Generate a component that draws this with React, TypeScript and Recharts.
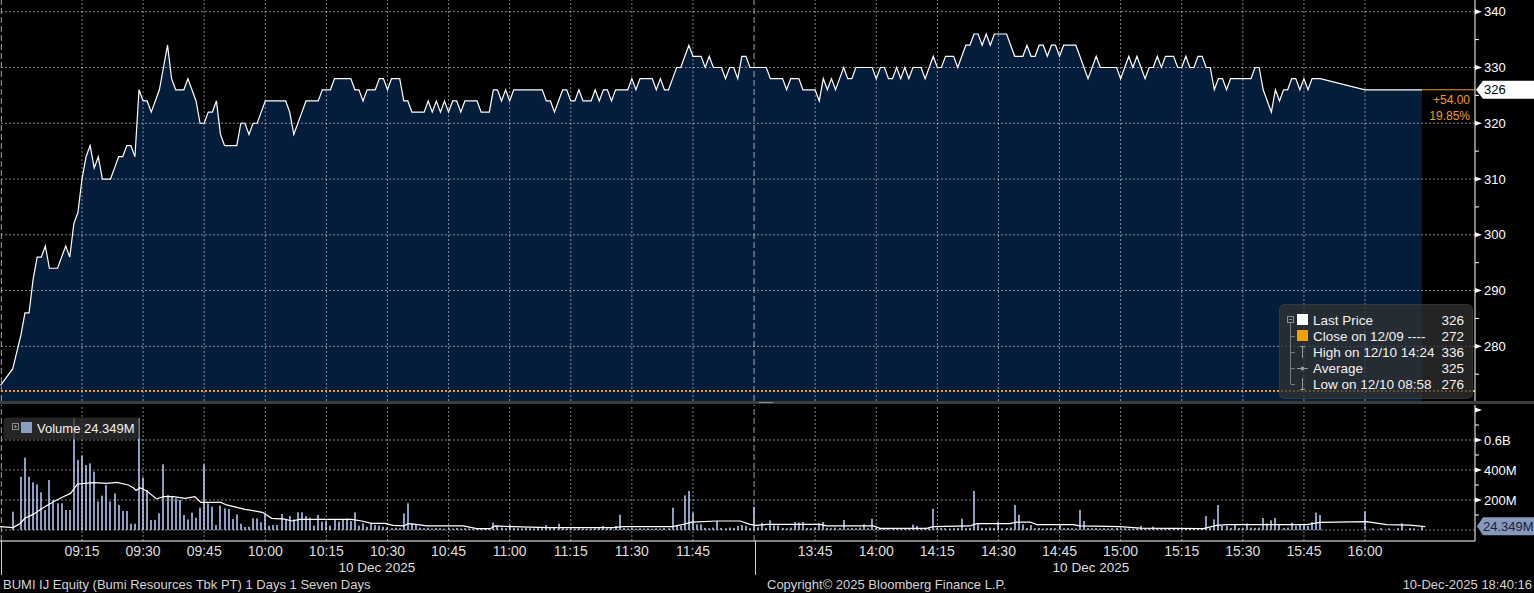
import React from 'react';
import { ComposedChart, Area, Bar, Line, XAxis, YAxis, ReferenceLine, ReferenceDot } from 'recharts';

const FONT = '"Liberation Sans", Arial, Helvetica, sans-serif';

// ---------- time axis: trading minutes from 09:00 (12:00–13:30 lunch break removed) ----------
const timeTickMinutes = [15, 30, 45, 60, 75, 90, 105, 120, 135, 150, 165, 195, 210, 225, 240, 255, 270, 285, 300, 315, 330];
const timeTickLabels = ['09:15', '09:30', '09:45', '10:00', '10:15', '10:30', '10:45', '11:00', '11:15', '11:30', '11:45',
  '13:45', '14:00', '14:15', '14:30', '14:45', '15:00', '15:15', '15:30', '15:45', '16:00'];
const sessionBreakMinute = 180;
const dayStartMinute = -4.8;
const xDomain: [number, number] = [-5.13, 357];
const dateLabelMinutes = [87.4, 262.7];
const dateLabel = '10 Dec 2025';

// ---------- price ----------
const preOpenMinutes = [-5, -2];
const preOpenPrices = [273, 276];
// one value per minute, minutes 0..319
const sessionPrices = [
  282, 286, 286, 292, 296, 296, 298, 294, 294, 294,
  296, 298, 296, 302, 304, 310, 314, 316, 312, 314,
  310, 310, 310, 312, 314, 314, 316, 316, 314, 326,
  324, 324, 322, 324, 326, 330, 334, 328, 326, 326,
  326, 328, 326, 324, 320, 320, 322, 322, 324, 318,
  316, 316, 316, 316, 320, 320, 318, 320, 320, 322,
  324, 324, 324, 324, 324, 324, 322, 318, 320, 322,
  324, 324, 324, 324, 326, 326, 326, 328, 328, 328,
  328, 328, 326, 326, 324, 326, 326, 326, 328, 328,
  326, 328, 328, 328, 324, 324, 322, 322, 322, 322,
  324, 322, 324, 322, 324, 322, 324, 324, 322, 324,
  324, 324, 324, 322, 322, 322, 326, 326, 324, 326,
  324, 326, 326, 326, 326, 326, 326, 326, 326, 324,
  324, 322, 324, 326, 326, 324, 324, 326, 324, 324,
  324, 326, 324, 326, 326, 324, 326, 326, 326, 326,
  328, 326, 328, 328, 328, 328, 326, 328, 326, 326,
  328, 330, 330, 332, 334, 332, 332, 332, 330, 332,
  330, 330, 330, 328, 330, 330, 328, 332, 332, 330,
  330, 330, 330, 330, 328, 328, 328, 328, 326, 328,
  328, 328, 326, 326, 326, 326, 324, 328, 326, 328,
  326, 328, 330, 328, 328, 330, 330, 330, 330, 330,
  328, 330, 330, 328, 328, 330, 328, 330, 328, 330,
  330, 330, 328, 330, 332, 330, 330, 332, 332, 332,
  330, 332, 334, 334, 336, 336, 334, 336, 334, 336,
  336, 336, 336, 334, 332, 332, 332, 334, 332, 332,
  334, 334, 332, 334, 334, 332, 334, 334, 334, 334,
  332, 330, 328, 330, 332, 330, 330, 330, 330, 330,
  328, 330, 332, 330, 332, 330, 328, 330, 330, 332,
  330, 332, 332, 332, 330, 330, 332, 330, 330, 332,
  332, 330, 330, 326, 328, 328, 326, 328, 328, 328,
  328, 328, 328, 330, 330, 326, 324, 322, 326, 324,
  326, 326, 328, 328, 326, 328, 326, 328, 328, 328,
];
const closingMinutes = [330, 344];
const closingPrices = [326, 326];
const prevClose = 272;
const lastPrice = 326;
const priceDomain: [number, number] = [270.2, 342.1];
const priceTicks = [275, 280, 285, 290, 295, 300, 305, 310, 315, 320, 325, 330, 335, 340];

const legendLabels = ['Last Price', 'Close on 12/09 ----', 'High on 12/10 14:24', 'Average', 'Low on 12/10 08:58'];
const legendValues = [326, 272, 336, 325, 276];

// ---------- volume (millions), one bar per minute from minute -2 to 344 ----------
const volumeStartMinute = -2;
const volumes = [
  122, 0, 355, 482, 355, 318, 304, 251, 133, 333,
  200, 178, 178, 133, 133, 745, 467, 496, 433, 444,
  389, 189, 229, 300, 189, 244, 167, 127, 127, 42,
  42, 745, 349, 267, 67, 67, 111, 438, 233, 222,
  211, 200, 100, 70, 116, 82, 149, 438, 178, 156,
  33, 162, 144, 140, 73, 104, 42, 20, 22, 78,
  78, 51, 111, 29, 33, 33, 107, 73, 93, 71,
  118, 118, 93, 82, 29, 100, 56, 60, 29, 69,
  56, 67, 78, 60, 118, 29, 44, 22, 44, 33,
  29, 22, 18, 12, 15, 12, 111, 178, 44, 38,
  15, 12, 15, 10, 14, 12, 9, 12, 10, 14,
  9, 12, 10, 8, 9, 12, 10, 12, 49, 27,
  16, 12, 33, 14, 12, 10, 15, 12, 10, 14,
  12, 33, 12, 16, 42, 12, 10, 12, 9, 12,
  10, 8, 10, 12, 14, 27, 12, 15, 27, 102,
  14, 10, 12, 9, 12, 10, 12, 9, 12, 10,
  14, 12, 149, 33, 27, 231, 260, 116, 38, 38,
  14, 12, 16, 60, 14, 12, 16, 14, 27, 33,
  27, 12, 156, 18, 47, 14, 65, 31, 31, 14,
  12, 16, 53, 49, 53, 14, 12, 16, 44, 53,
  14, 12, 16, 14, 67, 12, 14, 12, 16, 38,
  12, 75, 14, 10, 8, 10, 9, 12, 10, 9,
  12, 36, 27, 10, 14, 12, 142, 12, 14, 12,
  10, 12, 14, 75, 12, 14, 260, 38, 14, 12,
  16, 14, 56, 12, 14, 16, 167, 102, 38, 14,
  33, 12, 14, 10, 12, 14, 12, 38, 12, 14,
  12, 10, 133, 60, 14, 12, 14, 10, 12, 10,
  12, 14, 10, 12, 10, 8, 10, 27, 10, 8,
  22, 10, 8, 10, 8, 10, 8, 10, 8, 10,
  8, 10, 12, 93, 14, 71, 167, 27, 27, 14,
  38, 14, 12, 44, 16, 14, 16, 80, 44, 64,
  80, 33, 14, 16, 49, 27, 38, 33, 27, 53,
  116, 100, 0, 0, 0, 0, 0, 0, 0, 0,
  0, 0, 124, 0, 10, 0, 12, 0, 10, 0,
  12, 44, 0, 12, 10, 0, 27,
];
const volumeAvgMinutes = [-5.1, -1.9, -0.2, 1, 3, 5.5, 8, 10.4, 12.2, 13.9, 17.8, 21.1, 23.5, 26.4, 27.6, 28.3, 29.2, 30.9,
  33.3, 35, 37.4, 40.3, 42.7, 44.2, 49.1, 50.5, 55, 59.3, 61.6, 64.8, 66.5, 68.5, 81.2, 83.7, 86.1, 89.4, 91.4, 94, 95.1,
  97, 99.6, 108.6, 111.9, 115.2, 116.4, 120.9, 129.2, 145.4, 147.9, 160, 162.6, 164.7, 170.8, 176.6, 179, 180.6, 183.1,
  196.2, 197.8, 209.3, 210.9, 222.4, 224, 233, 234.7, 242.8, 244.5, 247.8, 249.4, 258.4, 260, 269.8, 274.8, 290.3, 293.6,
  296.2, 315.7, 319, 330.4, 335.3, 341, 344.8];
const volumeAvgValues = [22, 16, 44, 78, 104, 149, 189, 222, 244, 307, 316, 311, 318, 300, 282, 264, 282, 260,
  207, 222, 222, 211, 222, 184, 184, 167, 138, 118, 78, 73, 60, 71, 71, 60, 44, 44, 31, 27, 42,
  38, 27, 27, 9, 9, 27, 22, 16, 16, 22, 22, 38, 53, 60, 60, 38, 31, 38,
  38, 27, 27, 11, 11, 22, 27, 42, 42, 53, 53, 36, 36, 27, 22, 12, 9, 31,
  36, 36, 51, 56, 36, 33, 22];
const lastVolume = 24.349;
const volumeDomain: [number, number] = [-73.3, 833.3];
const volumeTicks = [100, 200, 300, 400, 500, 600, 700, 800];
const volumeTickLabels: Record<number, string> = { 200: '200M', 400: '400M', 600: '0.6B' };
const volumeGridValues = [0, 200, 400, 600];
const priceGridValues = [280, 290, 300, 310, 320, 330, 340];

// ---------- footer ----------
const footerLeft = 'BUMI IJ Equity (Bumi Resources Tbk PT) 1 Days 1 Seven Days';
const footerCenter = 'Copyright\u00A9 2025 Bloomberg Finance L.P.';
const footerRight = '10-Dec-2025 18:40:16';

// ---------- derived tables ----------
const priceData = [
  ...preOpenMinutes.map((t, i) => ({ t, p: preOpenPrices[i] })),
  ...sessionPrices.map((p, i) => ({ t: i, p })),
  ...closingMinutes.map((t, i) => ({ t, p: closingPrices[i] })),
];
const volumeData = volumes.map((v, i) => ({ t: volumeStartMinute + i, v }));
const volumeAvgData = volumeAvgMinutes.map((t, i) => ({ t, m: volumeAvgValues[i] }));
const lastMinute = closingMinutes[closingMinutes.length - 1];
const change = lastPrice - prevClose;
const changePct = (change / prevClose) * 100;

const ORANGE = '#f39c1f';
const FILL = '#041d3b';
const VOL = '#8b9dc3';
const GRID = { stroke: '#ffffff', strokeOpacity: 0.5, strokeDasharray: '2 2', strokeWidth: 1 };
const SESSION = { stroke: '#c8c8c8', strokeOpacity: 0.8, strokeDasharray: '6 3', strokeWidth: 1 };
const TX = 'a_time';
const DX = 'b_date';

const PriceTick = (props: any) => {
  const { x, y, payload } = props;
  const v = payload.value;
  const major = v % 10 === 0;
  return (
    <g>
      {major ? (
        <polygon points={`${x},${y - 2.5} ${x + 7},${y} ${x},${y + 2.5}`} fill="#fff" />
      ) : (
        <line x1={x} x2={x + 4} y1={y} y2={y} stroke="#fff" />
      )}
      {major && (
        <text x={x + 9} y={y} dy="0.35em" fill="#fff" fontSize={13} fontFamily={FONT}>{v}</text>
      )}
    </g>
  );
};

const VolumeTick = (props: any) => {
  const { x, y, payload } = props;
  const v = payload.value;
  const major = v % 200 === 0;
  const label = volumeTickLabels[v];
  return (
    <g>
      {major ? (
        <polygon points={`${x},${y - 2.5} ${x + 7},${y} ${x},${y + 2.5}`} fill="#fff" />
      ) : (
        <line x1={x} x2={x + 4} y1={y} y2={y} stroke="#fff" />
      )}
      {label && (
        <text x={x + 9} y={y} dy="0.35em" fill="#fff" fontSize={13} fontFamily={FONT}>{label}</text>
      )}
    </g>
  );
};

const VolumeBarShape = (props: any) => {
  const { x, y, width, height } = props;
  if (!height || height <= 0) return <g />;
  const cx = x + width / 2;
  return <rect x={Math.round(cx) - 1} y={y} width={2} height={height} fill={VOL} />;
};

const LastPriceTag = (props: any) => {
  const { cx, cy } = props;
  return (
    <g>
      <polygon points={`${cx + 1},${cy} ${cx + 8},${cy - 9} ${cx + 59},${cy - 9} ${cx + 59},${cy + 9} ${cx + 8},${cy + 9}`} fill="#fff" />
      <text x={cx + 9} y={cy} dy="0.35em" fill="#000" fontSize={13} fontFamily={FONT}>{lastPrice}</text>
      <text x={cx - 5} y={cy + 10} dy="0.35em" fill={ORANGE} fontSize={12} fontFamily={FONT} textAnchor="end">
        {`+${change.toFixed(2)}`}
      </text>
      <text x={cx - 5} y={cy + 26} dy="0.35em" fill={ORANGE} fontSize={12} fontFamily={FONT} textAnchor="end">
        {`${changePct.toFixed(2)}%`}
      </text>
    </g>
  );
};

const LastVolumeTag = (props: any) => {
  const { cx, cy } = props;
  return (
    <g>
      <polygon points={`${cx + 2},${cy} ${cx + 8},${cy - 9} ${cx + 59},${cy - 9} ${cx + 59},${cy + 9} ${cx + 8},${cy + 9}`} fill="#8699bd" />
      <text x={cx + 8} y={cy} dy="0.35em" fill="#17233a" fontSize={13} fontFamily={FONT}>{`${lastVolume}M`}</text>
    </g>
  );
};

const PriceLegend = () => {
  const rowY = (i: number) => 16 + i * 16;
  return (
    <svg width={195} height={96} style={{ position: 'absolute', left: 1279, top: 304 }}>
      <rect x={0.5} y={0.5} width={193} height={94} rx={5} fill="rgba(50,50,50,0.72)" stroke="rgba(80,80,80,0.5)" />
      <rect x={8.5} y={12.5} width={6} height={6} fill="none" stroke="#8c8c8c" />
      <line x1={10} x2={13} y1={15.5} y2={15.5} stroke="#8c8c8c" />
      <line x1={11.5} x2={11.5} y1={19} y2={rowY(4)} stroke="#7a7a7a" />
      {[1, 2, 3, 4].map((i) => (
        <line key={i} x1={11.5} x2={16} y1={rowY(i) + 0.5} y2={rowY(i) + 0.5} stroke="#7a7a7a" />
      ))}
      <rect x={18} y={rowY(0) - 6} width={11} height={11} fill="#fff" />
      <rect x={18} y={rowY(1) - 6} width={11} height={11} fill="#f5a000" />
      <line x1={21} x2={26} y1={rowY(2) - 5.5} y2={rowY(2) - 5.5} stroke="#9a9a9a" />
      <line x1={23.5} x2={23.5} y1={rowY(2) - 5.5} y2={rowY(2) + 6} stroke="#9a9a9a" />
      <line x1={18} x2={29} y1={rowY(3) + 0.5} y2={rowY(3) + 0.5} stroke="#9a9a9a" />
      <circle cx={23.5} cy={rowY(3) + 0.5} r={2} fill="#9a9a9a" />
      <line x1={23.5} x2={23.5} y1={rowY(4) - 6} y2={rowY(4) + 5.5} stroke="#9a9a9a" />
      <line x1={21} x2={26} y1={rowY(4) + 5.5} y2={rowY(4) + 5.5} stroke="#9a9a9a" />
      {legendLabels.map((l, i) => (
        <text key={l} x={34} y={rowY(i)} dy="0.35em" fill="#f2f2f2" fontSize={13.5} fontFamily={FONT}>{l}</text>
      ))}
      {legendValues.map((v, i) => (
        <text key={i} x={185} y={rowY(i)} dy="0.35em" fill="#f2f2f2" fontSize={13.5} fontFamily={FONT} textAnchor="end">{v}</text>
      ))}
    </svg>
  );
};

const VolumeLegend = () => (
  <svg width={138} height={24} style={{ position: 'absolute', left: 3, top: 417 }}>
    <rect x={0.5} y={0.5} width={136} height={22} rx={3} fill="rgba(50,50,50,0.75)" />
    <rect x={9.5} y={6.5} width={6} height={6} fill="none" stroke="#8c8c8c" />
    <line x1={11} x2={14} y1={9.5} y2={9.5} stroke="#8c8c8c" />
    <line x1={12.5} x2={12.5} y1={8} y2={11} stroke="#8c8c8c" />
    <rect x={18} y={5} width={11} height={11} fill={VOL} />
    <text x={34} y={11} dy="0.35em" fill="#f2f2f2" fontSize={13} fontFamily={FONT}>{`Volume ${lastVolume}M`}</text>
  </svg>
);

export default function App() {
  return (
    <div style={{ position: 'fixed', left: 0, top: 0, width: 1534, height: 593, background: '#000', overflow: 'hidden', fontFamily: FONT }}>
      {/* price panel */}
      <div style={{ position: 'absolute', left: 0, top: 0 }}>
        <ComposedChart width={1534} height={401} data={priceData} margin={{ top: 0, right: 0, bottom: 0, left: 0 }}>
          <XAxis dataKey="t" type="number" domain={xDomain} hide allowDataOverflow />
          <YAxis orientation="right" type="number" domain={priceDomain} ticks={priceTicks} interval={0} width={59}
            axisLine={{ stroke: '#fff' }} tickLine={false} tickSize={0} tickMargin={0} tick={PriceTick} allowDataOverflow />
          <Area dataKey="p" type="linear" stroke="#fff" strokeWidth={1.2} fill={FILL} fillOpacity={1}
            dot={false} activeDot={false} isAnimationActive={false} />
          {priceGridValues.map((v) => <ReferenceLine key={`h${v}`} y={v} {...GRID} />)}
          {timeTickMinutes.map((m) => <ReferenceLine key={`v${m}`} x={m} {...GRID} />)}
          <ReferenceLine x={sessionBreakMinute} {...SESSION} />
          <ReferenceLine x={dayStartMinute} {...SESSION} />
          <ReferenceLine y={prevClose} stroke={ORANGE} strokeWidth={2} strokeDasharray="2 2" />
          <ReferenceLine segment={[{ x: lastMinute, y: lastPrice }, { x: xDomain[1], y: lastPrice }]} stroke={ORANGE} strokeWidth={1} />
          <ReferenceDot x={xDomain[1]} y={lastPrice} r={0} shape={LastPriceTag} />
        </ComposedChart>
      </div>
      <PriceLegend />

      {/* separator */}
      <div style={{ position: 'absolute', left: 0, top: 401, width: 1534, height: 3, background: '#3c3c3c' }} />
      <div style={{ position: 'absolute', left: 759, top: 402, width: 14, height: 1, background: '#8a8a8a' }} />

      {/* volume panel */}
      <div style={{ position: 'absolute', left: 0, top: 405 }}>
        <ComposedChart width={1534} height={170} data={volumeData} margin={{ top: 0, right: 0, bottom: 0, left: 0 }}>
          <XAxis xAxisId={TX} dataKey="t" type="number" domain={xDomain} ticks={timeTickMinutes} interval={0}
            tickFormatter={(m: number) => timeTickLabels[timeTickMinutes.indexOf(m)]} height={20}
            tickSize={0} tickMargin={5} tickLine={false} axisLine={{ stroke: '#fff' }}
            tick={{ fill: '#dedede', fontSize: 14, fontFamily: FONT }} allowDataOverflow />
          <XAxis xAxisId={DX} dataKey="t" type="number" domain={xDomain} ticks={dateLabelMinutes} interval={0}
            tickFormatter={() => dateLabel} height={14} tickSize={0} tickMargin={1} tickLine={false} axisLine={false}
            tick={{ fill: '#dedede', fontSize: 13.5, fontFamily: FONT }} allowDataOverflow />
          <YAxis orientation="right" type="number" domain={volumeDomain} ticks={volumeTicks} interval={0} width={59}
            axisLine={{ stroke: '#fff' }} tickLine={false} tickSize={0} tickMargin={0} tick={VolumeTick} allowDataOverflow />
          {volumeGridValues.map((v) => <ReferenceLine key={`h${v}`} xAxisId={TX} y={v} {...GRID} />)}
          {timeTickMinutes.map((m) => <ReferenceLine key={`v${m}`} xAxisId={TX} x={m} {...GRID} />)}
          <ReferenceLine xAxisId={TX} x={sessionBreakMinute} {...SESSION} />
          <ReferenceLine xAxisId={TX} x={dayStartMinute} {...SESSION} />
          <Bar xAxisId={TX} dataKey="v" fill={VOL} barSize={2} shape={VolumeBarShape} isAnimationActive={false} />
          <Line xAxisId={TX} data={volumeAvgData} dataKey="m" type="linear" stroke="#fff" strokeWidth={1.2}
            dot={false} activeDot={false} isAnimationActive={false} />
          <ReferenceDot xAxisId={TX} x={xDomain[1]} y={lastVolume} r={0} shape={LastVolumeTag} />
        </ComposedChart>
      </div>
      <VolumeLegend />

      {/* vertical markers below the time axis */}
      <div style={{ position: 'absolute', left: 1, top: 541, width: 1, height: 34, background: '#cfcfcf' }} />
      <div style={{ position: 'absolute', left: 755, top: 541, width: 1, height: 34, background: '#cfcfcf' }} />

      {/* footer */}
      <div style={{ position: 'absolute', left: 3, top: 577, fontSize: 13, lineHeight: '16px', color: '#d4d4d4', whiteSpace: 'nowrap' }}>{footerLeft}</div>
      <div style={{ position: 'absolute', left: 767, top: 577, fontSize: 13, lineHeight: '16px', color: '#d4d4d4', whiteSpace: 'nowrap' }}>{footerCenter}</div>
      <div style={{ position: 'absolute', right: 2, top: 577, fontSize: 13, lineHeight: '16px', color: '#d4d4d4', whiteSpace: 'nowrap' }}>{footerRight}</div>
    </div>
  );
}
